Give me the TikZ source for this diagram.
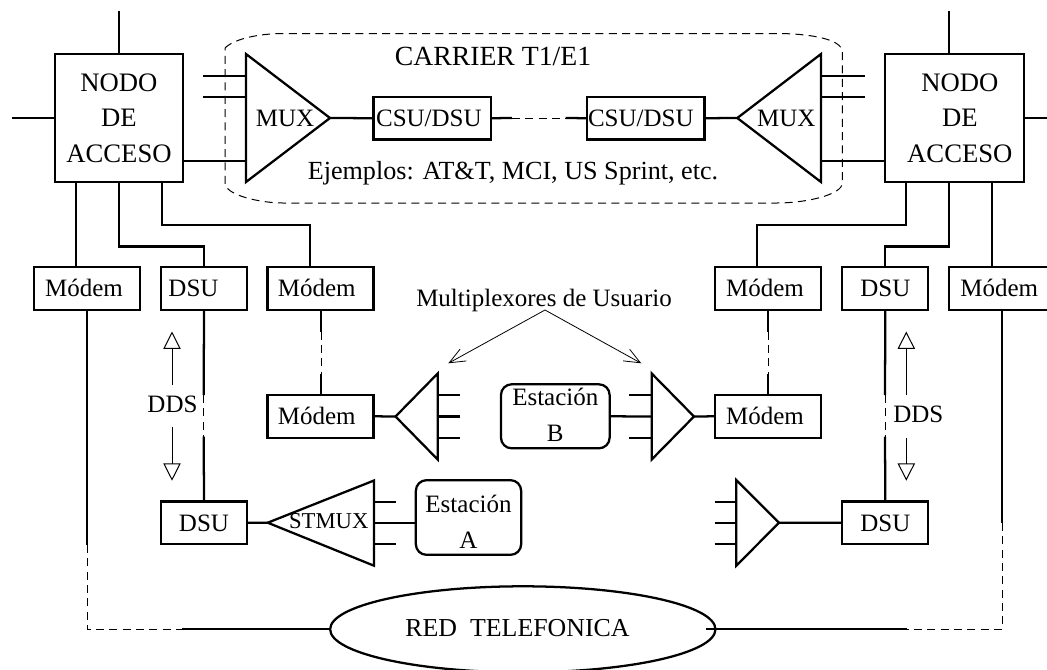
\documentclass[tikz,border=0pt]{standalone}
\usepackage{fontspec}
\setmainfont{Liberation Serif}
\usetikzlibrary{shapes.geometric,arrows.meta}

\begin{document}
\begin{tikzpicture}[
        x=0.75pt, y=-0.75pt,
        linea/.style={draw=black, line width=1.7pt},
        fina/.style={draw=black, line width=0.75pt, dash pattern=on 6pt off 4pt},
        caja/.style={
            rectangle,
            draw=black,
            line width=1.7pt,
            inner sep=0pt,
            minimum width=79.5pt,
            minimum height=32pt,
            text height=12.4pt,
            text depth=0pt,
            font=\fontsize{18.75}{26.6}\selectfont
        },
        dsu/.style={caja, minimum width=64.5pt},
        csu/.style={caja, minimum width=88pt},
        nodo/.style={
            rectangle,
            draw=black,
            line width=1.7pt,
            inner sep=0pt,
            minimum width=96pt,
            minimum height=96pt,
            align=center,
            font=\fontsize{20}{26.6}\selectfont
        },
        estacion/.style={
            rectangle,
            rounded corners=8pt,
            draw=black,
            line width=1.7pt,
            inner sep=0pt,
            minimum width=79pt,
            minimum height=48pt,
            align=center,
            font=\fontsize{18.75}{27}\selectfont
        },
        texto/.style={inner sep=0pt, font=\fontsize{18.75}{26.6}\selectfont},
        dds/.style={
            draw=black,
            line width=0.75pt,
            -{Triangle[open, length=13pt, width=13pt]}
        },
        flecha/.style={
            draw=black,
            line width=0.6pt,
            -{Straight Barb[length=12pt, width=10pt]}
        }
    ]
    \clip (0,0) rectangle (1047,669);

    % --- Carrier ---
    \draw[fina] (225,48) .. controls (235,38) and (262,33.5) .. (283,33.5)
        -- (777,33.5) .. controls (805,33.5) and (842.3,38) .. (842.3,52)
        -- (842.3,183) .. controls (842.3,195) and (805,203) .. (777,203)
        -- (283,203) .. controls (260,203) and (225,195) .. (225,183) -- cycle;
    \node[texto, font=\fontsize{20.8}{26}\selectfont] (carrier) at (493,56) {CARRIER T1/E1};
    \node[texto, font=\fontsize{19.6}{26}\selectfont] (ejemplos) at (513,173.5) {Ejemplos: AT\&T, MCI, US Sprint, etc.};

    % --- Nodos de acceso ---
    \node[nodo] (nodoi) at (119,118) {NODO\\DE\\ACCESO};
    \node[nodo, minimum width=104pt] (nodod) at (954.5,118) {\hspace*{8pt}NODO\\\hspace*{8pt}DE\\\hspace*{8pt}ACCESO};

    \coordinate (nitop) at (118.7,11);
    \coordinate (nileft) at (12,118);
    \coordinate (ndtop) at (949,11);
    \coordinate (ndright) at (1047,118);
    \draw[linea] (nitop) -- (nitop |- nodoi.north);
    \draw[linea] (nileft) -- (nodoi.west);
    \draw[linea] (ndtop) -- (ndtop |- nodod.north);
    \draw[linea] (ndright) -- (nodod.east);

    % --- MUX del carrier ---
    \coordinate (muxi) at (330,118);
    \coordinate (muxiup) at (246,54);
    \coordinate (muxidn) at (246,182);
    \coordinate (muxd) at (737.3,118);
    \coordinate (muxdup) at (821,54);
    \coordinate (muxddn) at (821,182);
    \draw[linea, line join=miter] (muxiup) -- (muxi) -- (muxidn) -- cycle;
    \draw[linea, line join=miter] (muxdup) -- (muxd) -- (muxddn) -- cycle;
    \node[texto] (muxitxt) at (285,118) {MUX};
    \node[texto] (muxdtxt) at (786.3,118) {MUX};

    \draw[linea] (203,76) -- (246,76);
    \draw[linea] (203,97) -- (246,97);
    \draw[linea] (183,161) -- (246,161);
    \draw[linea] (821,76) -- (864.7,76);
    \draw[linea] (821,97) -- (864.7,97);
    \draw[linea] (821,161) -- (885,161);

    \node[csu] (csui) at (432.2,118.2) {\kern-5pt CSU/DSU};
    \node[csu] (csud) at (645.8,118.2) {\kern-7.5pt CSU/DSU};
    \coordinate (csuia) at (512,118);
    \coordinate (csuda) at (565.7,118);
    \draw[linea] (muxi) -- (csui.west);
    \draw[linea] (csui.east) -- (csuia);
    \draw[fina] (csuia) -- (csuda);
    \draw[linea] (csuda) -- (csud.west);
    \draw[linea] (csud.east) -- (muxd);

    % --- Fila superior ---
    \node[caja] (modema) at (87,288.5) {\kern-4.5pt Módem};
    \node[dsu] (dsua) at (204,288.5) {\kern-15.75pt DSU};
    \node[caja] (modemb) at (320.5,288.5) {\kern-5.7pt Módem};
    \node[caja] (modemc) at (768.3,288.5) {\kern-5pt Módem};
    \node[dsu] (dsub) at (885.3,288.5) {DSU};
    \node[caja] (modemd) at (1002.3,288.5) {\kern-4.5pt Módem};

    \coordinate (ni1) at (76,182);
    \coordinate (ni2) at (118.7,246.5);
    \coordinate (ni3) at (161.7,225);
    \coordinate (nd1) at (906.3,225);
    \coordinate (nd2) at (949,246.5);
    \coordinate (nd3) at (991.7,182);
    \draw[linea] (ni1) -- (ni1 |- modema.north);
    \draw[linea] (ni2 |- nodoi.south) -- (ni2) -| (dsua.north);
    \draw[linea] (ni3 |- nodoi.south) -- (ni3) -- (310,225) -- (310,267);
    \draw[linea] (nd1 |- nodod.south) -- (nd1) -- (757.3,225) -- (757.3,267);
    \draw[linea] (nd2 |- nodod.south) -- (nd2) -| (dsub.north);
    \draw[linea] (nd3) -- (nd3 |- modemd.north);

    % --- Multiplexores de usuario ---
    \node[texto] (multi) at (544,300.5) {Multiplexores de Usuario};
    \coordinate (multic) at (545,310);
    \coordinate (multii) at (448.3,363.3);
    \coordinate (multid) at (641.3,363.3);
    \draw[flecha] (multic) -- (multii);
    \draw[flecha] (multic) -- (multid);

    \node[caja] (modeme) at (320.5,416.3) {\kern-5.7pt Módem};
    \node[caja] (modemf) at (768.3,416.3) {\kern-5pt Módem};
    \coordinate (mba) at (321,331.5);
    \coordinate (mbb) at (321,373.5);
    \coordinate (mca) at (768.3,331.5);
    \coordinate (mcb) at (768.3,373.5);
    \draw[linea] (modemb.south -| mba) -- (mba);
    \draw[fina] (mba) -- (mbb);
    \draw[linea] (mbb) -- (modeme.north -| mbb);
    \draw[linea] (modemc.south) -- (mca);
    \draw[fina] (mca) -- (mcb);
    \draw[linea] (mcb) -- (modemf.north);

    % Triangulos de la estacion B
    \coordinate (tria) at (395.5,416.5);
    \coordinate (triaup) at (437.7,373.5);
    \coordinate (triadn) at (437.7,459.5);
    \coordinate (trib) at (694,416.5);
    \coordinate (tribup) at (651.7,373.5);
    \coordinate (tribdn) at (651.7,459.5);
    \draw[linea, line join=miter] (triaup) -- (tria) -- (triadn) -- cycle;
    \draw[linea, line join=miter] (tribup) -- (trib) -- (tribdn) -- cycle;
    \draw[linea] (modeme.east) -- (tria);
    \draw[linea] (trib) -- (modemf.west);
    \draw[linea] (437.7,395) -- (459.5,395);
    \draw[linea] (437.7,416.5) -- (459.5,416.5);
    \draw[linea] (437.7,437.7) -- (459.5,437.7);

    \node[estacion, minimum width=81.5pt] (estb) at (555.3,416.3) {Estación\\B\rule[-3pt]{0pt}{3pt}};
    \draw[linea] (estb.east) -- (651.7,416.5);
    \draw[linea] (629.3,395) -- (651.7,395);
    \draw[linea] (629.3,437.7) -- (651.7,437.7);

    % --- Fila inferior ---
    \node[dsu] (dsuc) at (204,522.8) {DSU};
    \node[dsu] (dsud) at (885.3,522.8) {DSU};
    \coordinate (dsa) at (203.7,395);
    \coordinate (dsb) at (203.7,436.7);
    \coordinate (dsc) at (885,395);
    \coordinate (dsd) at (885,436.7);
    \draw[linea] (dsua.south) -- (dsa);
    \draw[fina] (dsa) -- (dsb);
    \draw[linea] (dsb) -- (dsuc.north);
    \draw[linea] (dsub.south) -- (dsc);
    \draw[fina] (dsc) -- (dsd);
    \draw[linea] (dsd) -- (dsud.north);

    \coordinate (stmux) at (267.7,522.7);
    \coordinate (stmuxup) at (374,480.5);
    \coordinate (stmuxdn) at (374,565.7);
    \draw[linea, line join=miter] (stmuxup) -- (stmux) -- (stmuxdn) -- cycle;
    \node[texto, font=\fontsize{17}{20}\selectfont] (stmuxtxt) at (328.8,521) {STMUX};
    \draw[linea] (dsuc.east) -- (stmux);
    \node[estacion, minimum height=56pt] (esta) at (468.5,517.5) {\rule{0pt}{20pt}Estación\\A};
    \draw[linea] (374,522.7) -- (esta.west |- 374,522.7);
    \draw[linea] (374,501.7) -- (396,501.7);
    \draw[linea] (374,544) -- (396,544);

    \coordinate (trid) at (779,522.7);
    \coordinate (tridup) at (736.3,480);
    \coordinate (triddn) at (736.3,565.7);
    \draw[linea, line join=miter] (tridup) -- (trid) -- (triddn) -- cycle;
    \draw[linea] (trid) -- (dsud.west);
    \draw[linea] (714.7,501.7) -- (736.3,501.7);
    \draw[linea] (714.7,522.7) -- (736.3,522.7);
    \draw[linea] (714.7,544) -- (736.3,544);

    % --- DDS ---
    \node[texto] (ddsi) at (172.5,404) {DDS};
    \node[texto] (ddsd) at (918.3,414.3) {DDS};
    \coordinate (ddsia) at (172,331.5);
    \coordinate (ddsib) at (172,480.7);
    \coordinate (ddsda) at (906.3,331.5);
    \coordinate (ddsdb) at (906.3,480.7);
    \draw[dds] (172,385) -- (ddsia);
    \draw[dds] (172,426.7) -- (ddsib);
    \draw[dds] (906.3,395) -- (ddsda);
    \draw[dds] (906.3,437.7) -- (ddsdb);

    % --- Red telefonica ---
    \node[ellipse, draw=black, line width=1.7pt, inner sep=0pt,
        minimum width=289pt, minimum height=64.5pt] (red) at (522.8,629.3) {};
    \node[texto, font=\fontsize{19.4}{26}\selectfont] (redtxt) at (517.5,628) {RED\ \ TELEFONICA};
    \coordinate (redi) at (87,629.3);
    \coordinate (redia) at (182,629.3);
    \coordinate (redd) at (1002.3,629.3);
    \coordinate (redda) at (907.3,629.3);
    \coordinate (modemap) at (87,545);
    \coordinate (modemdp) at (1002.3,523);
    \draw[linea] (modema.south) -- (modemap);
    \draw[fina] (modemap) -- (redi) -- (redia);
    \draw[linea] (redia) -- (red.west);
    \draw[linea] (modemd.south) -- (modemdp);
    \draw[fina] (modemdp) -- (redd) -- (redda);
    \draw[linea] (redda) -- ([xshift=-8pt]red.east);

\end{tikzpicture}
\end{document}
